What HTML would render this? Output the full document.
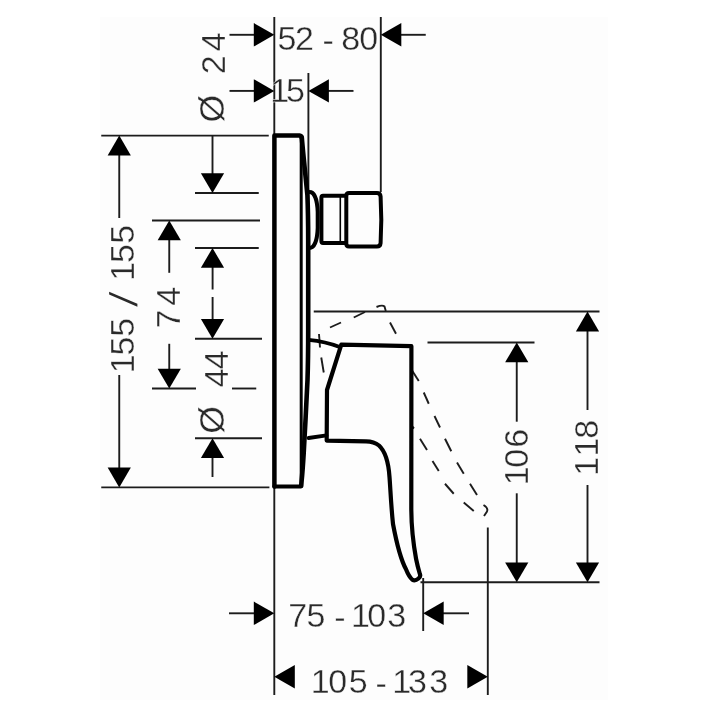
<!DOCTYPE html>
<html lang="en"><head><meta charset="utf-8"><title>Dimension drawing</title>
<style>html,body{margin:0;padding:0;background:#fff}body{width:720px;height:720px;overflow:hidden}svg{display:block;filter:grayscale(1)}text{font-family:"Liberation Sans",sans-serif;fill:#2a2a2a;text-anchor:middle;stroke:#fdfdfd;stroke-width:0.35px}</style></head><body>
<svg width="720" height="720" viewBox="0 0 720 720">
<rect x="100" y="17" width="508" height="683" fill="#fdfdfd"/>
<g stroke="#1c1c1c" stroke-width="1.9" fill="none">
<line x1="274.3" y1="17" x2="274.3" y2="136"/>
<line x1="274.3" y1="486" x2="274.3" y2="695"/>
<line x1="380.8" y1="17" x2="380.8" y2="192"/>
<line x1="308.4" y1="73" x2="308.4" y2="240"/>
<line x1="423.2" y1="578" x2="423.2" y2="631"/>
<line x1="487.8" y1="527.5" x2="487.8" y2="695"/>
<line x1="101.25" y1="135.6" x2="268.75" y2="135.6"/>
<line x1="195" y1="193" x2="258.75" y2="193"/>
<line x1="152" y1="220.5" x2="260" y2="220.5"/>
<line x1="195" y1="248" x2="258.75" y2="248"/>
<line x1="195" y1="338.8" x2="262" y2="338.8"/>
<line x1="152" y1="388.5" x2="196" y2="388.5"/>
<line x1="232" y1="388.5" x2="256.25" y2="388.5"/>
<line x1="195" y1="438.25" x2="262" y2="438.25"/>
<line x1="101.25" y1="487.4" x2="269.4" y2="487.4"/>
<line x1="313.75" y1="311.5" x2="599.5" y2="311.5"/>
<line x1="427.5" y1="342.5" x2="534.5" y2="342.5"/>
<line x1="420.5" y1="582.3" x2="599.5" y2="582.3"/>
<line x1="229.5" y1="34.8" x2="256" y2="34.8"/>
<line x1="400" y1="34.8" x2="425.75" y2="34.8"/>
<line x1="229.5" y1="90.9" x2="256" y2="90.9"/>
<line x1="327" y1="90.9" x2="353.5" y2="90.9"/>
<line x1="119.25" y1="154" x2="119.25" y2="218"/>
<line x1="119.25" y1="375" x2="119.25" y2="469"/>
<line x1="212.5" y1="135.6" x2="212.5" y2="175"/>
<line x1="169.25" y1="238" x2="169.25" y2="272.8"/>
<line x1="169.25" y1="343.8" x2="169.25" y2="370"/>
<line x1="212.6" y1="266" x2="212.6" y2="289.5"/>
<line x1="212.6" y1="297" x2="212.6" y2="321"/>
<line x1="212.5" y1="456" x2="212.5" y2="477"/>
<line x1="516.75" y1="361" x2="516.75" y2="421.7"/>
<line x1="516.75" y1="493.3" x2="516.75" y2="564"/>
<line x1="587.5" y1="330" x2="587.5" y2="410"/>
<line x1="587.5" y1="485" x2="587.5" y2="564"/>
<line x1="229" y1="613.3" x2="256" y2="613.3"/>
<line x1="442" y1="613.3" x2="469" y2="613.3"/>
</g>
<g fill="#000" stroke="none">
<polygon points="274.3,34.8 253.8,23.099999999999998 253.8,46.5"/>
<polygon points="380.8,34.8 401.3,23.099999999999998 401.3,46.5"/>
<polygon points="274.3,90.9 253.8,79.2 253.8,102.60000000000001"/>
<polygon points="308.4,90.9 328.9,79.2 328.9,102.60000000000001"/>
<polygon points="119.25,135.6 107.65,155.4 130.85,155.4"/>
<polygon points="119.25,487.4 107.65,467.59999999999997 130.85,467.59999999999997"/>
<polygon points="212.5,193 200.9,173.2 224.1,173.2"/>
<polygon points="169.25,220.5 157.65,240.3 180.85,240.3"/>
<polygon points="169.25,388.6 157.65,368.8 180.85,368.8"/>
<polygon points="212.5,248 200.9,267.8 224.1,267.8"/>
<polygon points="212.5,338.8 200.9,319.0 224.1,319.0"/>
<polygon points="212.5,438.25 200.9,458.05 224.1,458.05"/>
<polygon points="516.75,342.5 505.15,362.3 528.35,362.3"/>
<polygon points="516.75,582.2 505.15,562.4000000000001 528.35,562.4000000000001"/>
<polygon points="587.5,311.6 575.9,331.40000000000003 599.1,331.40000000000003"/>
<polygon points="587.5,582.2 575.9,562.4000000000001 599.1,562.4000000000001"/>
<polygon points="274.3,613.3 253.8,601.5999999999999 253.8,625.0"/>
<polygon points="423.2,613.3 443.7,601.5999999999999 443.7,625.0"/>
<polygon points="274.3,676.8 294.8,665.0999999999999 294.8,688.5"/>
<polygon points="487.8,676.8 467.3,665.0999999999999 467.3,688.5"/>
</g>
<g stroke="#1c1c1c" stroke-width="1.9" fill="none" stroke-linecap="butt">
<line x1="319" y1="334" x2="320" y2="347.5"/>
<line x1="321.25" y1="357.5" x2="323.75" y2="372.5"/>
<line x1="330" y1="327.5" x2="341" y2="322.5"/>
<line x1="353.75" y1="317.5" x2="365" y2="312"/>
<line x1="390" y1="322.5" x2="396" y2="333.75"/>
<line x1="411.75" y1="370" x2="418.75" y2="381"/>
<line x1="423.75" y1="392.5" x2="428.75" y2="403.75"/>
<line x1="434.5" y1="416" x2="440" y2="427.5"/>
<line x1="445" y1="438.75" x2="451.25" y2="451.25"/>
<line x1="457" y1="462.5" x2="463.75" y2="473.75"/>
<line x1="470" y1="483.75" x2="477" y2="495"/>
<line x1="411.75" y1="426" x2="414" y2="428.5"/>
<line x1="420" y1="438.75" x2="427" y2="450"/>
<line x1="432.5" y1="461" x2="438.75" y2="471"/>
<line x1="445" y1="483.75" x2="453.75" y2="493.75"/>
<line x1="463.75" y1="502.5" x2="473.75" y2="511"/>
<path d="M376.5,307 Q382.5,304.5 384.5,306.5 L385.8,311"/>
<path d="M483.5,505 Q488.5,508 487,511.5 L484,516"/>
</g>
<g stroke="#000" fill="none" stroke-linejoin="round" stroke-linecap="round">
<path stroke-width="4.5" d="M274.4,486.4 L274.4,135.6 L299.5,135.6 Q301.5,135.8 301.8,138"/>
<path stroke-width="4" d="M274.4,486.4 L300.5,486.4"/>
<path stroke-width="3" d="M301.2,137 L301.2,485"/>
<path stroke-width="4.6" d="M301.8,137.5 C303.2,155 306,180 307.4,195 C308,210 308.2,225 308.2,240 L308.2,330 C308.2,350 307.9,368 307.5,380 C306.8,395 306.2,408 305.5,420 C304.9,432 304.3,443 303.7,453 C303.1,463 302.4,473 301.6,481 L301.2,486"/>
<path stroke-width="4" d="M309.5,192 C314.5,192 317.3,200 317.7,212 L317.7,228 C317.3,240 314.5,248 309.5,248"/>
<path stroke-width="4" d="M345.5,195.7 L323,195.7 Q321.4,195.7 321.4,197.7 L321.4,241 Q321.4,243 323,243 L345.5,243"/>
<path stroke-width="1.6" d="M340.3,196 L340.3,243.4"/>
<path stroke-width="4" d="M349,193 L377,193 Q380.3,193 380.6,196.5 Q382,220 380.6,243 Q380.3,246.5 377,246.5 L349,246.6 Q346.3,246.5 346.3,243.5 L346.3,196 Q346.3,193 349,193 Z"/>
<path stroke-width="3.8" d="M308.5,339.8 Q326,341.5 339,346.8"/>
<path stroke-width="3.8" d="M308.5,438 L326.5,435.4"/>
<path stroke-width="4.2" d="M341.3,344.6 L411.4,346.2 L411.3,510 C411.4,525 413,542 416.1,559 Q417.5,566 420,574.5 Q420.8,577 418.5,578.5 Q415,581.5 412.5,579.8 Q409,577 406,569.3 C401,560 396,540 393,524 C391,505 390.5,490 389.5,477 C388.5,462 386,452 379,445.5 Q374,441.3 366,441.3 L326.7,440.6 L327,390 Z"/>
</g>
<text x="286.9 304.4 316.25 328.1 339.35 350.6 368.75" y="49.5 49.5 49.5 51.5 49.5 49.5 49.5" font-size="34" xml:space="preserve">52 - 80</text>
<text x="279.75 295.4" y="102 102" font-size="34" xml:space="preserve">15</text>
<text x="297.75 315.85 327.85 339.85 350.2 360.55 376.6 396.6" y="626.8 626.8 626.8 628.8 626.8 626.8 626.8 626.8" font-size="34" xml:space="preserve">75 - 103</text>
<text x="320.3 337.6 358.2 369.7 381.2 391.42 401.65 417.5 438.7" y="692.9 692.9 692.9 692.9 694.9 692.9 692.9 692.9 692.9" font-size="34" xml:space="preserve">105 - 133</text>
<text transform="translate(224.2,0) rotate(-90)" x="-108.6" y="0" font-size="35.5">Ø</text>
<text transform="translate(225,0) rotate(-90)" x="-64.7 -42" y="0" font-size="34">24</text>
<text transform="translate(133.6,0) rotate(-90)" x="-363.9 -346 -327.3" y="0" font-size="34">155</text>
<text transform="translate(137.2,301.3) rotate(-90) skewX(-9)" x="0" y="0" font-size="38.5" style="stroke:none">/</text>
<text transform="translate(133.6,0) rotate(-90)" x="-271.4 -253.6 -234.4" y="0" font-size="34">155</text>
<text transform="translate(180.3,0) rotate(-90)" x="-319.1 -296.4" y="0" font-size="34">74</text>
<text transform="translate(224.2,0) rotate(-90)" x="-420" y="0" font-size="35.5">Ø</text>
<text transform="translate(228.0,0) rotate(-90)" x="-378 -360" y="0" font-size="34">44</text>
<text transform="translate(528.0,0) rotate(-90)" x="-475.8 -458.3 -438.3" y="0" font-size="34">106</text>
<text transform="translate(598.4,0) rotate(-90)" x="-466.4 -447 -429.2" y="0" font-size="34">118</text>
</svg></body></html>
